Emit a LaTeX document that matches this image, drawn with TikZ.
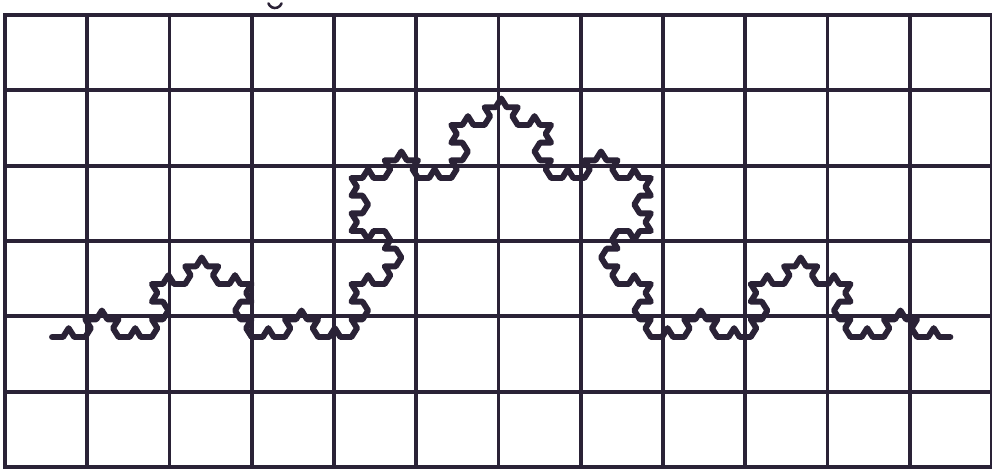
\documentclass[tikz,border=0pt]{standalone}
\usetikzlibrary{lindenmayersystems}
\definecolor{inkDark}{HTML}{2A2236}
\pgfdeclarelindenmayersystem{Koch curve}{\rule{F -> F+F--F+F}}

\begin{document}
\begin{tikzpicture}[
  x=0.025cm, y=0.025cm,
  gridline/.style={draw=inkDark, line width=2.8pt, line cap=rect},
  koch/.style={draw=inkDark, line width=4.2pt, line join=round, line cap=round},
  breve/.style={draw=inkDark, line width=1.8pt, line cap=round},
]
  \useasboundingbox (0,0) rectangle (992,468);
  \fill[white] (0,0) rectangle (992,468);

  % grid
  \foreach \i in {0,...,12}
    \draw[gridline] ({5+82.25*\i},1) -- ({5+82.25*\i},453);
  \foreach \j in {0,...,6}
    \draw[gridline] (5,{1+75.33*\j}) -- (992,{1+75.33*\j});

  % Koch curve, order 4
  \coordinate (kstart) at (52,131);
  \begin{scope}[shift={(kstart)}, yscale=0.92]
    \draw[koch, lindenmayer system={Koch curve, axiom=F, order=4, step=0.2772cm, angle=60}]
      (0,0) lindenmayer system;
  \end{scope}

  % small mark above the grid
  \coordinate (brv) at (275,467);
  \draw[breve] (brv) ++(200:7) arc[start angle=200, end angle=340, radius=7];
\end{tikzpicture}
\end{document}
